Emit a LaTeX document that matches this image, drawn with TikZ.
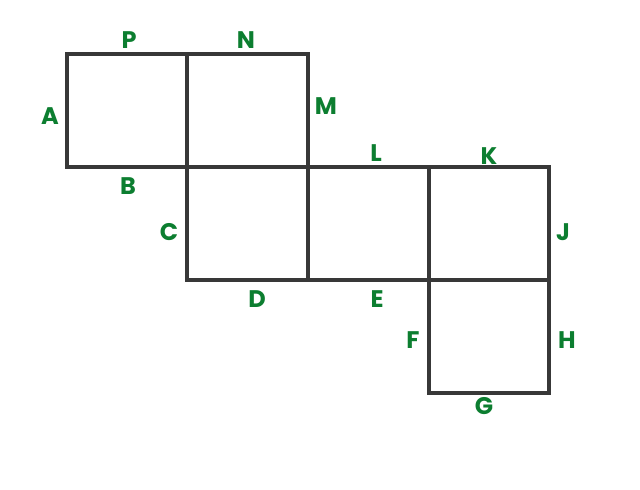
\documentclass[tikz,border=0pt]{standalone}
\usepackage{fontspec}
\setmainfont{Poppins}
\definecolor{lbl}{HTML}{0C7E30}
\definecolor{edge}{HTML}{383838}
\begin{document}
\begin{tikzpicture}[x=1pt,y=-1pt,
  sq/.style={draw=edge,line width=3.5pt,line join=miter},
  lab/.style={text=lbl,font=\fontsize{24}{24}\selectfont\bfseries,inner sep=0pt,anchor=center}]
\useasboundingbox[fill=white] (0,0) rectangle (640,490);
\draw[sq] (67,54) rectangle (187,167);
\draw[sq] (187,54) rectangle (308,167);
\draw[sq] (187,167) rectangle (308,280);
\draw[sq] (308,167) rectangle (429,280);
\draw[sq] (429,167) rectangle (549,280);
\draw[sq] (429,280) rectangle (549,393);
\node[lab] (P) at (129,40) {P};
\node[lab] (N) at (246,40) {N};
\node[lab] (A) at (50,116) {A};
\node[lab] (M) at (326,106) {M};
\node[lab] (B) at (128,186) {B};
\node[lab] (L) at (376,153) {L};
\node[lab] (K) at (489,156) {K};
\node[lab] (C) at (169,232) {C};
\node[lab] (J) at (563,232) {J};
\node[lab] (D) at (257,299) {D};
\node[lab] (E) at (377,299) {E};
\node[lab] (F) at (413,340) {F};
\node[lab] (H) at (567,340) {H};
\node[lab] (G) at (484,406) {G};
\end{tikzpicture}
\end{document}
